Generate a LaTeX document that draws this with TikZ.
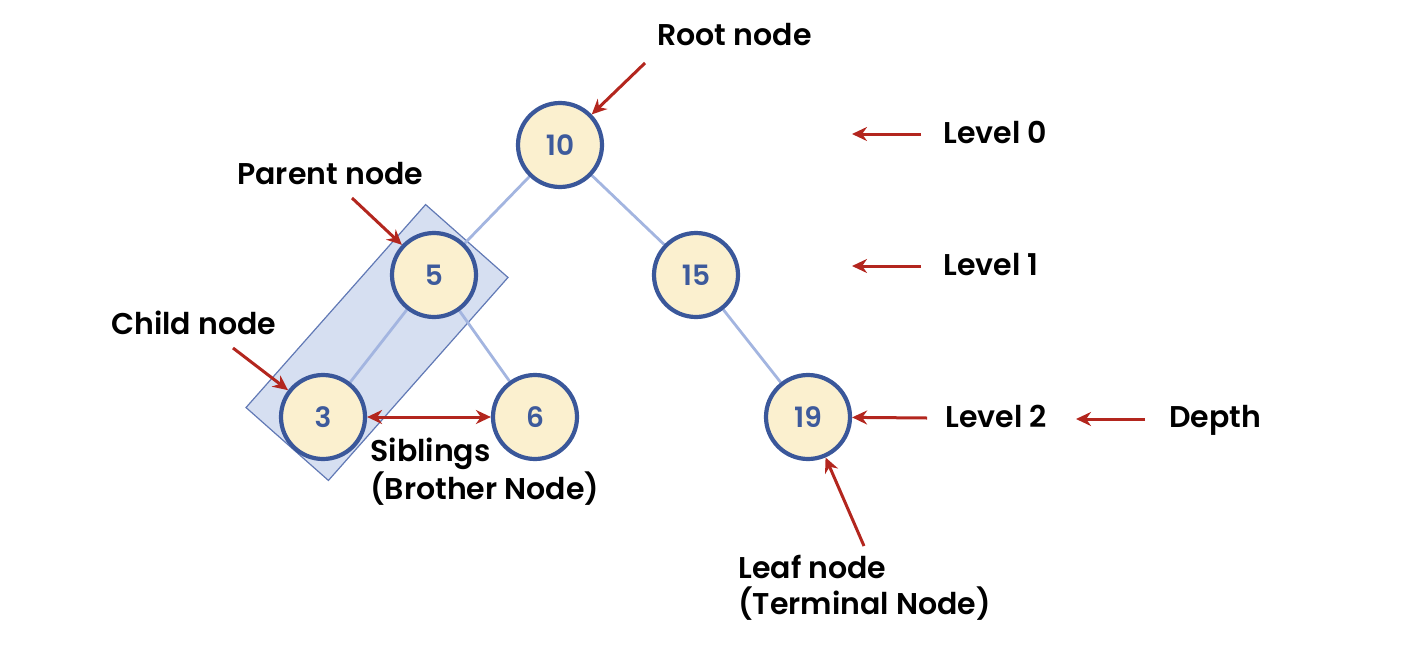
\documentclass[tikz,border=0pt]{standalone}
\usepackage{fontspec}
\setmainfont{Poppins SemiBold}
\usetikzlibrary{arrows.meta}
\definecolor{ringblue}{HTML}{3A579A}
\definecolor{numblue}{HTML}{3D5A9C}
\definecolor{nodefill}{HTML}{FBF0CF}
\definecolor{edgeblue}{HTML}{A3B5E0}
\definecolor{boxfill}{HTML}{D6DFF1}
\definecolor{boxline}{HTML}{6179B5}
\definecolor{arrowred}{HTML}{B3261E}
\pgfdeclarelayer{background}
\pgfsetlayers{background,main}
\tikzset{
  treenode/.style={circle, draw=ringblue, fill=nodefill, line width=2.1pt,
    minimum size=42pt, inner sep=0pt, text=numblue, font=\fontsize{14}{16}\selectfont},
  edge/.style={draw=edgeblue, line width=1.4pt},
  label/.style={anchor=base west, inner sep=0pt, text=black, font=\fontsize{15}{18}\selectfont},
  pointer/.style={draw=arrowred, line width=1.5pt, -{Stealth[length=7.5pt,width=7pt]}},
  twoway/.style={draw=arrowred, line width=1.5pt, {Stealth[length=7.5pt,width=7pt]}-{Stealth[length=7.5pt,width=7pt]}},
  groupbox/.style={draw=boxline, fill=boxfill, line width=0.6pt, minimum width=135.5pt,
    minimum height=55pt, inner sep=0pt}
}
\begin{document}
\begin{tikzpicture}[x=0.5pt,y=-0.5pt]
\useasboundingbox (0,0) rectangle (1406,664);

% tree nodes
\node[treenode] (n10) at (560,145) {10};
\node[treenode] (n5)  at (434,275) {5};
\node[treenode] (n15) at (696,275) {15};
\node[treenode] (n3)  at (323,417) {3};
\node[treenode] (n6)  at (535,417) {6};
\node[treenode] (n19) at (808,417) {19};

% highlighted parent/child pair and tree edges, behind the nodes
\begin{pgfonlayer}{background}
\node[groupbox, rotate=48.5] (grp) at (377,342.5) {};
\draw[edge] (n10) -- (n5);
\draw[edge] (n10) -- (n15);
\draw[edge] (n5) -- (n3);
\draw[edge] (n5) -- (n6);
\draw[edge] (n15) -- (n19);
\end{pgfonlayer}

% labels (positions are baselines)
\node[label] (root)   at (657,45)  {Root node};
\node[label] (parent) at (237,184) {Parent node};
\node[label] (child)  at (111,334) {Child node};
\node[label] (sib1)   at (370,461) {Siblings};
\node[label] (sib2)   at (370,499) {(Brother Node)};
\node[label] (leaf1)  at (738,578) {Leaf node};
\node[label] (leaf2)  at (738,614) {(Terminal Node)};
\node[label] (lvl0)   at (943,143) {Level 0};
\node[label] (lvl1)   at (943,275) {Level 1};
\node[label] (lvl2)   at (945,427) {Level 2};
\node[label] (depth)  at (1169,427) {Depth};

% free ends of the pointers
\coordinate (rootS)   at (645,63);
\coordinate (parentS) at (352,198);
\coordinate (childS)  at (233,348);
\coordinate (leafS)   at (864,546);
\coordinate (lvl0S)   at (921,134);
\coordinate (lvl0T)   at (852,134);
\coordinate (lvl1S)   at (921,266);
\coordinate (lvl1T)   at (852,266);
\coordinate (lvl2S)   at (927,418);
\coordinate (depthS)  at (1145,419);
\coordinate (depthT)  at (1076,419);

\draw[pointer] (rootS) -- (n10);
\draw[pointer] (parentS) -- (n5);
\draw[pointer] (childS) -- (n3);
\draw[pointer] (leafS) -- (n19);
\draw[twoway] (n3) -- (n6);
\draw[pointer] (lvl0S) -- (lvl0T);
\draw[pointer] (lvl1S) -- (lvl1T);
\draw[pointer] (lvl2S) -- (n19);
\draw[pointer] (depthS) -- (depthT);
\end{tikzpicture}
\end{document}
